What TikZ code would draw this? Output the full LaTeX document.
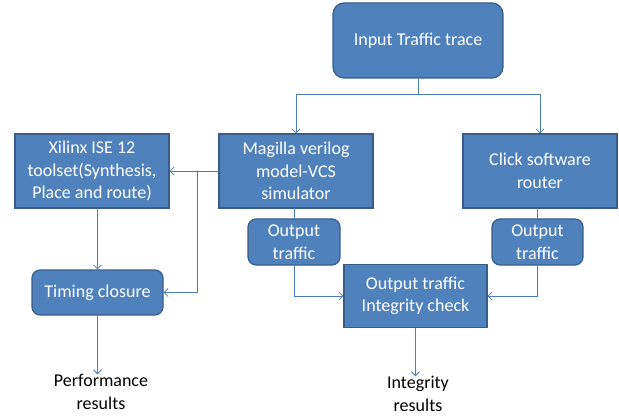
\documentclass[tikz,border=0pt]{standalone}
\usepackage{fontspec}
\setmainfont{Carlito}
\usetikzlibrary{arrows.meta}
\definecolor{boxfill}{HTML}{4F81BD}
\definecolor{boxline}{HTML}{385D8A}
\definecolor{wire}{HTML}{4A7EBB}
\tikzset{
  blockbox/.style={draw=boxline,fill=boxfill,line width=1.2pt,text=white,align=center,inner sep=0pt},
  roundbox/.style={blockbox,rounded corners=8pt},
  result/.style={align=center,inner sep=0pt}
}

\begin{document}
\begin{tikzpicture}[x=1pt,y=-1pt,>={Straight Barb[length=4pt,width=8pt]},font=\fontsize{18}{22.5}\selectfont,line cap=round]
\useasboundingbox (0,0) rectangle (619,417);
% boxes
\node[roundbox,minimum width=170pt,minimum height=75pt,rounded corners=11pt] (input) at (418,40.5) {Input Traffic trace};
\node[blockbox,minimum width=154pt,minimum height=74pt] (magilla) at (296,171) {Magilla verilog\\model-VCS\\simulator};
\node[blockbox,minimum width=154pt,minimum height=74pt] (click) at (540,171) {Click software\\router};
\node[blockbox,minimum width=154pt,minimum height=74pt] (xilinx) at (92,171) {Xilinx ISE 12\\toolset(Synthesis,\\Place and route)};
\node[roundbox,minimum width=131pt,minimum height=45pt] (timing) at (97.5,292.5) {Timing closure};
\node[roundbox,minimum width=92pt,minimum height=46pt] (outl) at (294,242) {Output\\traffic};
\node[roundbox,minimum width=91pt,minimum height=46pt] (outr) at (537.5,242) {Output\\traffic};
\node[blockbox,minimum width=143pt,minimum height=63pt] (check) at (415.5,296) {Output traffic\\Integrity check};
\node[result] (perf) at (101,392) {Performance\\results};
\node[result] (integ) at (418,394) {Integrity\\results};
% wires
\coordinate (fork) at (418,94);
\coordinate (tap) at (197,171);
\begin{scope}[draw=wire,line width=0.8pt]
\draw (input.south) -- (fork);
\draw[->] (fork) -| (magilla.north);
\draw[->] (fork) -| (click.north);
\draw[->] (magilla.west) -- (xilinx.east);
\draw[->] (tap) |- (timing.east);
\draw[->] (timing.north |- xilinx.south) -- (timing.north);
\draw[->] (timing.south) -- (timing.south |- perf.north);
\draw (magilla.south -| outl.north) -- (outl.north);
\draw (click.south -| outr.north) -- (outr.north);
\draw[->] (outl.south) |- (check.west);
\draw[->] (outr.south) |- (check.east);
\draw[->] (check.south) -- (check.south |- integ.north);
\end{scope}
\end{tikzpicture}
\end{document}
